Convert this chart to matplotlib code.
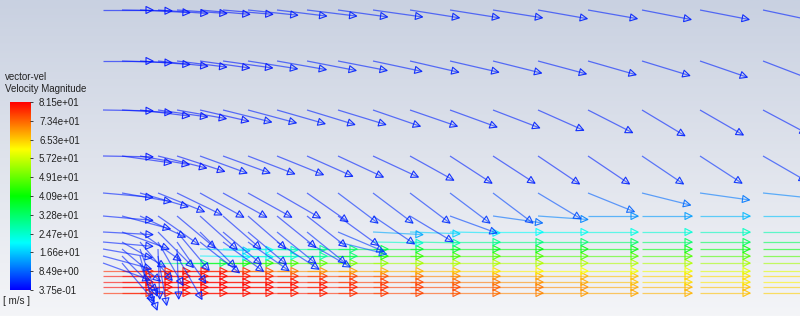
import numpy as np
import matplotlib
matplotlib.use('Agg')
import matplotlib.pyplot as plt
from matplotlib.colors import LinearSegmentedColormap, Normalize
from matplotlib.collections import LineCollection, PolyCollection

plt.rcParams['font.family'] = ['Liberation Sans', 'DejaVu Sans']

# vector tails: columns (x) and rows (y), in image pixels
col_x = [103, 122, 140, 158, 177, 200, 223, 248, 277, 307,
         338, 373, 410, 450, 493, 538, 588, 642, 700, 763]
row_y = [10, 61, 110, 156, 193, 216, 232, 242, 249, 256, 263, 271, 276, 282, 287, 293]

# flow angle below horizontal (deg), one list per row
angle_rows = [
    [0, 1, 3, 4, 4, 5, 5, 6, 7, 7, 8, 8, 9, 9, 9, 10, 10, 11, 11, 12],
    [0, 2, 4, 6, 7, 8, 8, 9, 10, 11, 11, 12, 13, 13, 14, 15, 16, 17, 19, 21],
    [1, 3, 7, 8, 10, 13, 14, 15, 16, 17, 17, 19, 19, 20, 21, 24, 27, 31, 30, 28],
    [1, 8, 10, 14, 18, 20, 20, 21, 22, 24, 25, 25, 29, 33, 33, 34, 34, 34, 33, 30],
    [5, 10, 16, 22, 26, 29, 29, 29, 30, 35, 37, 37, 37, 37, 37, 31, 22, 14, 8, 6],
    [5, 15, 25, 35, 40, 42, 41, 41, 39, 38, 36, 34, 31, 20, 8, 4, 0, 0, 0, 0],
    [3, 20, 35, 45, 50, 45, 40, 40, 39, 39, 23, 3, 2, 1, 0, 0, 0, 0, 0, 0],
    [5, 30, 50, 60, 55, 38, 36, 35, 33, 30, 14, 1, 1, 0, 0, 0, 0, 0, 0, 0],
    [10, 40, 70, 88, 88, 2, 1, 1, 0, 0, 0, 0, 0, 0, 0, 0, 0, 0, 0, 0],
    [15, 45, 75, 80, 60, 1, 1, 0, 0, 0, 0, 0, 0, 0, 0, 0, 0, 0, 0, 0],
    [20, 50, 70, 0, 0, 0, 0, 0, 0, 0, 0, 0, 0, 0, 0, 0, 0, 0, 0, 0],
    [0, 0, 0, 0, 0, 0, 0, 0, 0, 0, 0, 0, 0, 0, 0, 0, 0, 0, 0, 0],
    [0, 0, 0, 0, 0, 0, 0, 0, 0, 0, 0, 0, 0, 0, 0, 0, 0, 0, 0, 0],
    [0, 0, 0, 0, 0, 0, 0, 0, 0, 0, 0, 0, 0, 0, 0, 0, 0, 0, 0, 0],
    [0, 0, 0, 0, 0, 0, 0, 0, 0, 0, 0, 0, 0, 0, 0, 0, 0, 0, 0, 0],
    [0, 0, 0, 0, 0, 0, 0, 0, 0, 0, 0, 0, 0, 0, 0, 0, 0, 0, 0, 0],
]

# velocity magnitude (m/s), one list per row
speed_rows = [
    [2, 2, 2, 2, 2, 2, 2, 3, 3, 3, 3, 3, 3, 3, 3, 3, 3, 3, 3, 3],
    [2, 2, 2, 2, 2, 2, 2, 3, 3, 3, 3, 3, 3, 3, 3, 3, 3, 3, 3, 3],
    [2, 2, 2, 2, 2, 2, 3, 3, 3, 3, 3, 3, 3, 3, 3, 3, 3, 3, 3, 3],
    [2, 2, 2, 2, 2, 3, 3, 3, 3, 3, 3, 3, 3, 3, 3, 3, 3, 4, 4, 4],
    [3, 3, 3, 3, 3, 3, 3, 3, 3, 3, 4, 4, 4, 5, 6, 7, 8, 9, 10, 11],
    [3, 3, 3, 3, 3, 3, 3, 3, 3, 3, 3, 4, 4, 6, 9, 11, 12, 13, 15, 16],
    [3, 3, 3, 3, 3, 3, 3, 3, 4, 4, 5, 14, 17, 19, 21, 22, 23, 24, 26, 27],
    [3, 3, 3, 3, 3, 3, 3, 4, 4, 5, 8, 25, 28, 30, 31, 32, 33, 33, 34, 34],
    [3, 3, 3, 3, 3, 17, 21, 25, 29, 32, 35, 37, 38, 39, 40, 40, 40, 40, 40, 40],
    [3, 3, 3, 3, 3, 20, 22, 24, 28, 32, 42, 45, 46, 47, 47, 47, 47, 47, 47, 47],
    [3, 3, 3, 30, 34, 40, 44, 46, 48, 50, 52, 54, 55, 55, 55, 55, 55, 55, 54, 54],
    [78, 79, 80, 80, 80, 78, 74, 72, 70, 69, 68, 67, 66, 64, 62, 61, 60, 60, 59, 59],
    [80, 81, 81, 81, 81, 80, 79, 78, 77, 76, 75, 73, 71, 70, 68, 67, 66, 65, 64, 64],
    [81, 81, 81, 81, 81, 81, 80, 80, 79, 78, 77, 76, 74, 72, 70, 68, 66, 64, 63, 62],
    [81, 81, 81, 81, 81, 81, 81, 80, 80, 79, 78, 77, 76, 74, 72, 70, 68, 67, 66, 65],
    [78, 79, 80, 80, 80, 80, 80, 79, 79, 78, 77, 76, 75, 73, 71, 69, 68, 67, 66, 65],
]

vmin, vmax = 0.375, 81.5
tick_values = [0.375, 8.49, 16.6, 24.7, 32.8, 40.9, 49.1, 57.2, 65.3, 73.4, 81.5]

cmap = LinearSegmentedColormap.from_list(
    'fluent', ['#0000ff', '#00ffff', '#00ff00', '#ffff00', '#ff0000'])
norm = Normalize(vmin, vmax)

fig = plt.figure(figsize=(8, 3.16), dpi=100)
ax = fig.add_axes([0, 0, 1, 1])
ax.set_xlim(0, 800)
ax.set_ylim(316, 0)
ax.axis('off')

# background gradient
bg = LinearSegmentedColormap.from_list('bg', ['#c9d1e1', '#dfe3ec', '#f4f5f8'])
ax.imshow(np.linspace(0, 1, 256)[:, None], cmap=bg, extent=[0, 800, 316, 0],
          aspect='auto', zorder=0)

arrow_len = 50
head_len, head_w = 7, 3.5
for r in reversed(range(len(row_y))):
    tx = np.array(col_x, dtype=float)
    ty = np.full(len(col_x), row_y[r], dtype=float)
    a = np.radians(angle_rows[r])
    dx, dy = np.cos(a), np.sin(a)
    hx, hy = tx + arrow_len * dx, ty + arrow_len * dy
    colors = cmap(norm(np.array(speed_rows[r])))
    segs = [[(x0, y0), (x1, y1)] for x0, y0, x1, y1 in zip(tx, ty, hx, hy)]
    ax.add_collection(LineCollection(segs, colors=colors, linewidths=0.9,
                                     alpha=0.6, zorder=2))
    bx, by = hx - head_len * dx, hy - head_len * dy
    px, py = -dy * head_w, dx * head_w
    polys = [[(h1, h2), (b1 + p1, b2 + p2), (b1 - p1, b2 - p2)]
             for h1, h2, b1, b2, p1, p2 in zip(hx, hy, bx, by, px, py)]
    ax.add_collection(PolyCollection(polys, facecolors='none', edgecolors=colors,
                                     linewidths=0.8, alpha=0.9, zorder=2))

# colour legend
cax = fig.add_axes([10 / 800, (316 - 290) / 316, 20 / 800, 188 / 316])
cax.imshow(np.linspace(vmin, vmax, 256)[:, None], cmap=cmap, norm=norm,
           aspect='auto', origin='lower', extent=[0, 1, vmin, vmax])
cax.set_xticks([])
cax.yaxis.tick_right()
cax.set_yticks(tick_values)
cax.set_yticklabels([f'{v:.2e}' for v in tick_values])
cax.tick_params(axis='y', length=2.5, width=0.6, pad=4, labelsize=7,
                colors='#222222')
for sp in cax.spines.values():
    sp.set_visible(False)

fig.text(5 / 800, 1 - 77 / 316, 'vector-vel', fontsize=7, va='center', color='#222222')
fig.text(5 / 800, 1 - 89 / 316, 'Velocity Magnitude', fontsize=7, va='center', color='#222222')
fig.text(3 / 800, 1 - 301 / 316, '[ m/s ]', fontsize=7, va='center', color='#222222')

fig.savefig('out.png', dpi=100)
